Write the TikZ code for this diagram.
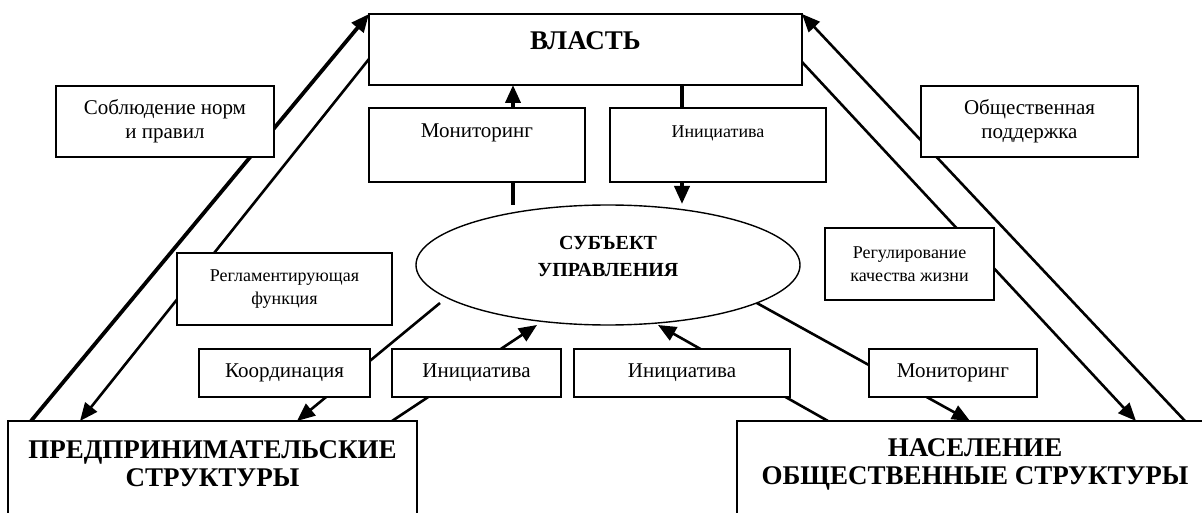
\documentclass[tikz,border=0pt]{standalone}
\usepackage{fontspec}
\setmainfont{Liberation Serif}
\usetikzlibrary{arrows.meta,calc,shapes.geometric}
\begin{document}
\begin{tikzpicture}[x=1pt,y=-1pt,
  box/.style={draw, line width=1.4pt, fill=white, inner sep=0pt},
  lbl/.style={font=\fontsize{21}{24}\selectfont, align=center},
  slbl/.style={font=\fontsize{18}{23}\selectfont, align=center},
  big/.style={font=\fontsize{27}{28}\selectfont\bfseries, align=center},
  mid/.style={font=\fontsize{20}{27}\selectfont\bfseries, align=center},
  tip/.style={-{Triangle[length=18pt,width=15pt]}},
  conn/.style={line width=2.6pt},
  thickconn/.style={line width=3.8pt},
]
\useasboundingbox (0,0) rectangle (1202,513);
\clip (0,0) rectangle (1202,513);

% endpoint coordinates
\coordinate (a1) at (31,421);
\coordinate (a2) at (369,59);
\coordinate (a3) at (80,421);
\coordinate (b1) at (1185,421);
\coordinate (b2) at (802,62);
\coordinate (b3) at (1136,421);
\coordinate (m1s) at (513,205);
\coordinate (m1e) at (513,85);
\coordinate (i1s) at (682,85);
\coordinate (i1e) at (682,204);
\coordinate (k1s) at (440,303);
\coordinate (k1e) at (297,421);
\coordinate (i2s) at (392,421);
\coordinate (i2e) at (537,325);
\coordinate (i3s) at (828,421);
\coordinate (i3e) at (658,325);
\coordinate (m2s) at (755,302);
\coordinate (m2e) at (970,421);
\coordinate (vlnw) at (369,14);
\coordinate (vlne) at (802,14);

% connectors (drawn first, boxes lie over them)
\draw[thickconn,tip] (a1) -- (vlnw);
\draw[conn,tip] (a2) -- (a3);
\draw[conn,tip] (b1) -- (vlne);
\draw[conn,tip] (b2) -- (b3);
\draw[thickconn,tip] (m1s) -- (m1e);
\draw[thickconn,tip] (i1s) -- (i1e);
\draw[conn,tip] (k1s) -- (k1e);
\draw[conn,tip] (i2s) -- (i2e);
\draw[conn,tip] (i3s) -- (i3e);
\draw[conn,tip] (m2s) -- (m2e);

% boxes
\node[box, minimum width=433pt, minimum height=71pt] (vl) at (585.5,49.5) {};
\node[big] (vlt) at (585.5,41) {ВЛАСТЬ};

\node[box, minimum width=216pt, minimum height=74pt] (mon1) at (477,145) {};
\node[lbl] (mon1t) at (477,133) {Мониторинг};

\node[box, minimum width=216pt, minimum height=74pt] (ini1) at (718,145) {};
\node[slbl] (ini1t) at (718,133) {Инициатива};

\node[box, lbl, minimum width=218pt, minimum height=71pt] (sob) at (165,121.5) {Соблюдение норм\\и правил};
\node[box, lbl, minimum width=217pt, minimum height=71pt] (obs) at (1029.5,121.5) {Общественная\\поддержка};
\node[box, slbl, minimum width=215pt, minimum height=72pt] (reg) at (284.5,289) {Регламентирующая\\функция};
\node[box, slbl, minimum width=169pt, minimum height=72pt] (kach) at (909.5,264) {Регулирование\\качества жизни};

\node[box, lbl, minimum width=171pt, minimum height=48pt] (koord) at (284.5,373) {Координация};
\node[box, lbl, minimum width=169pt, minimum height=48pt] (ini2) at (476.5,373) {Инициатива};
\node[box, lbl, minimum width=216pt, minimum height=48pt] (ini3) at (682,373) {Инициатива};
\node[box, lbl, minimum width=168pt, minimum height=48pt] (mon2) at (953,373) {Мониторинг};

\node[box, minimum width=409pt, minimum height=130pt] (pr) at (212.5,486) {};
\node[big] (prt) at (212.5,464) {ПРЕДПРИНИМАТЕЛЬСКИЕ\\СТРУКТУРЫ};

\node[box, minimum width=475pt, minimum height=130pt] (nas) at (974.5,486) {};
\node[big] (nast) at (975,464) {НАСЕЛЕНИЕ\\ОБЩЕСТВЕННЫЕ СТРУКТУРЫ};

% central ellipse
\node[ellipse, draw, line width=1.4pt, fill=white, minimum width=384pt, minimum height=120pt, inner sep=0pt] (ell) at (608,265) {};
\node[mid] (ellt) at (608,256.5) {СУБЪЕКТ\\УПРАВЛЕНИЯ};
\end{tikzpicture}
\end{document}
